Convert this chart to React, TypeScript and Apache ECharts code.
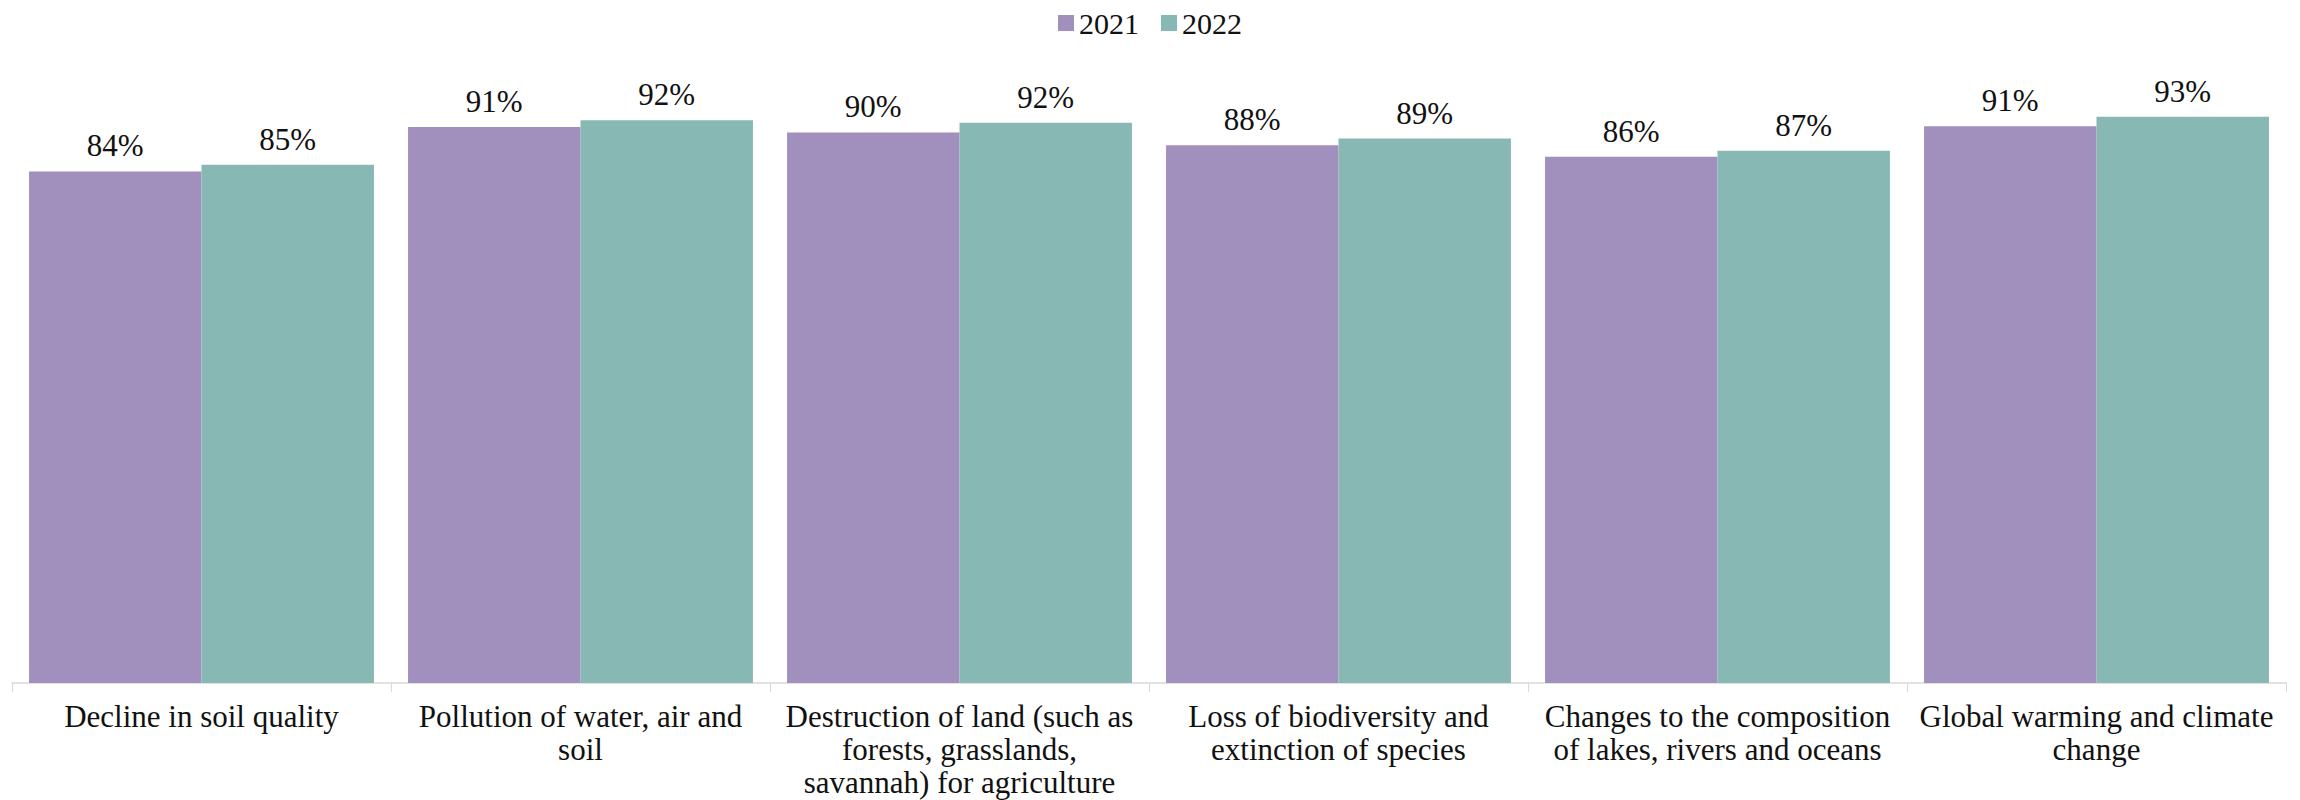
import React, { useEffect, useRef } from "react";
import * as echarts from "echarts";

const categories = [
  "Decline in soil quality",
  "Pollution of water, air and\nsoil",
  "Destruction of land (such as\nforests, grasslands,\nsavannah) for agriculture",
  "Loss of biodiversity and\nextinction of species",
  "Changes to the composition\nof lakes, rivers and oceans",
  "Global warming and climate\nchange",
];
const seriesNames = ["2021", "2022"];
const values2021 = [84.0, 91.3, 90.4, 88.3, 86.4, 91.4];
const values2022 = [85.1, 92.4, 92.0, 89.4, 87.4, 93.0];
const colors = ["#A18FBD", "#87B8B3"];

const FONT = "Liberation Serif";

export default function App() {
  const ref = useRef<HTMLDivElement>(null);
  useEffect(() => {
    if (!ref.current) return;
    const chart = echarts.init(ref.current, undefined, { renderer: "svg" });
    const label = {
      show: true,
      position: "top" as const,
      distance: 10,
      color: "#111",
      fontFamily: FONT,
      fontSize: 31,
      formatter: (p: any) => Math.round(p.value) + "%",
    };
    chart.setOption({
      animation: false,
      backgroundColor: "#ffffff",
      color: colors,
      textStyle: { fontFamily: FONT },
      legend: {
        top: 3,
        left: "center",
        itemWidth: 16,
        itemHeight: 16,
        itemGap: 22,
        icon: "rect",
        textStyle: { fontFamily: FONT, fontSize: 30, color: "#111" },
        data: seriesNames,
      },
      grid: { left: 12, right: 14, top: 74, bottom: 117, containLabel: false },
      xAxis: {
        type: "category",
        data: categories,
        axisLine: { lineStyle: { color: "#d9d9d9", width: 1.5 } },
        axisTick: { show: true, length: 9, lineStyle: { color: "#d9d9d9" } },
        axisLabel: {
          interval: 0,
          margin: 17,
          color: "#111",
          fontFamily: FONT,
          fontSize: 31,
          lineHeight: 33,
        },
      },
      yAxis: {
        type: "value",
        min: 0,
        max: 100,
        show: false,
        splitLine: { show: false },
      },
      series: [
        {
          name: seriesNames[0],
          type: "bar",
          data: values2021,
          barGap: "0%",
          barCategoryGap: "9%",
          label,
          itemStyle: { color: colors[0] },
        },
        {
          name: seriesNames[1],
          type: "bar",
          data: values2022,
          barGap: "0%",
          barCategoryGap: "9%",
          label,
          itemStyle: { color: colors[1] },
        },
      ],
    });
    return () => chart.dispose();
  }, []);
  return (
    <div
      ref={ref}
      style={{ position: "fixed", left: 0, top: 0, width: 2300, height: 800, background: "#fff" }}
    />
  );
}
